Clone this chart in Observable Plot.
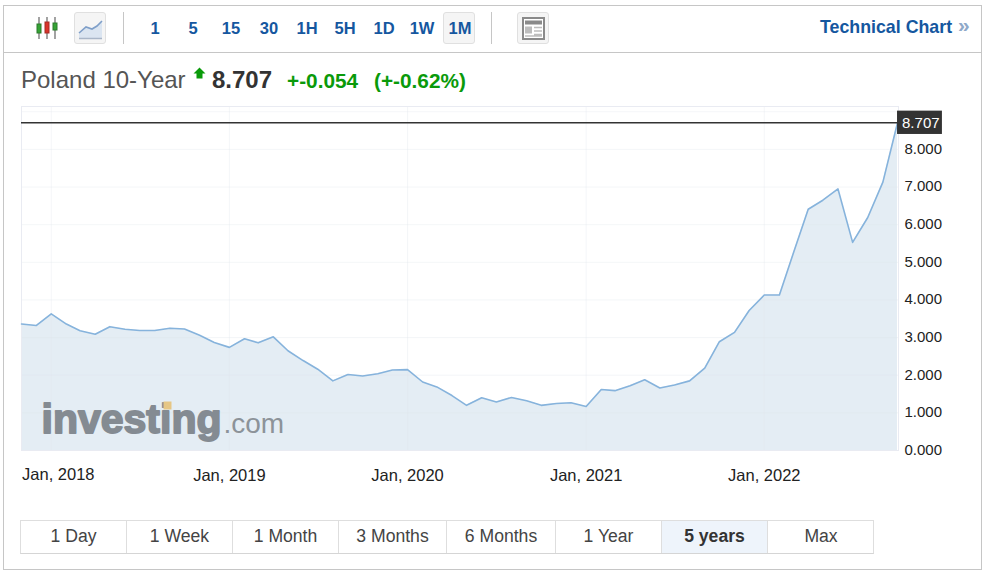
<!DOCTYPE html>
<html><head><meta charset="utf-8">
<script src="https://cdn.jsdelivr.net/npm/d3@7"></script>
<script src="https://cdn.jsdelivr.net/npm/@observablehq/plot@0.6"></script>
<style>
html,body{margin:0;padding:0;background:#fff;overflow:hidden;font-family:"Liberation Sans",Arial,sans-serif}
#page{position:relative;width:986px;height:575px}
#outer{position:absolute;left:3px;top:5px;width:977px;height:563px;border:1px solid #c6c6c6}
#hl{position:absolute;left:4px;width:977px;top:52px;height:1px;background:#c6c6c6}
.sep{position:absolute;top:12px;width:1px;height:32px;background:#c6c6c6}
.tb{position:absolute;top:12px;height:32px;line-height:32px;width:32px;text-align:center;font-weight:bold;font-size:16.5px;color:#15579f}
.box{position:absolute;top:12px;width:30px;height:30px;border:1px solid #e0e0e0;border-radius:3px;background:#f5f5f5}
.abs{position:absolute;white-space:nowrap}
#tabs{position:absolute;left:20px;top:520px;width:852px;height:32px;border:1px solid #dedede;border-bottom:1px solid #d5d5d5;display:block}
.tab{position:absolute;top:0;height:32px;line-height:31px;text-align:center;font-size:17.6px;color:#444;border-right:1px solid #dedede;box-sizing:border-box}
.tab.on{background:#eef4fb;font-weight:bold;color:#333}
#chart{position:absolute;left:0;top:99px}
</style></head><body>
<div id="page">
<div id="outer"></div><div id="hl"></div>
<svg class="abs" style="left:34px;top:15px" width="26" height="26" viewBox="0 0 26 26">
<g stroke="#666" stroke-width="1.2"><path d="M5 2V24M13 2V24M21 2V24"/></g>
<rect x="3" y="9" width="4" height="9" fill="#35a335" stroke="#2a7a2a"/><rect x="11" y="7" width="4" height="11" fill="#d9342b" stroke="#a52a24"/><rect x="19" y="8" width="4" height="7" fill="#35a335" stroke="#2a7a2a"/></svg>
<div class="box" style="left:74px"></div>
<svg class="abs" style="left:78px;top:18px" width="26" height="24" viewBox="0 0 26 24"><path d="M1 15L8 9L14 11L19 8L24 3V20H1Z" fill="#dbe5f1"/><path d="M1 15L8 9L14 11L19 8L24 3" fill="none" stroke="#7f9fc9" stroke-width="1.6"/><path d="M1 20.5H24" stroke="#a9b6c8" stroke-width="1.5"/></svg>
<div class="sep" style="left:123px"></div>
<div class="box" style="left:443px"></div>
<div id="tools"></div>
<div class="sep" style="left:491px"></div>
<div class="box" style="left:517px"></div>
<svg class="abs" style="left:522px;top:17px" width="23" height="23" viewBox="0 0 23 23"><rect x="1" y="1" width="21" height="21" fill="#fff" stroke="#8a8a8a" stroke-width="2"/><rect x="3" y="3.500" width="17" height="4" fill="#8a8a8a"/><rect x="3" y="9.500" width="7" height="7" fill="#bdbdbd"/><path d="M12 10.500H20M12 14H20M12 17.500H20M3 19H20" stroke="#bdbdbd" stroke-width="1.400"/></svg>
<div class="abs" style="left:820px;top:17px;font-size:17.800px;font-weight:bold;color:#15579f">Technical Chart</div>
<div class="abs" style="left:958px;top:13px;font-size:21px;font-weight:bold;color:#8fa9c9">»</div>
<div class="abs" style="left:21px;top:66px;font-size:24px;color:#555">Poland 10-Year</div>
<svg class="abs" style="left:193px;top:67px" width="13" height="12" viewBox="0 0 13 12"><path d="M6.500 0.500L12.500 6.500H9.500V11.500H3.500V6.500H0.500Z" fill="#0a9a0a"/></svg>
<div class="abs" style="left:212px;top:66px;font-size:24px;font-weight:bold;color:#333">8.707</div>
<div class="abs" style="left:287px;top:69px;font-size:20.800px;font-weight:bold;color:#0a9a0a">+-0.054</div>
<div class="abs" style="left:374px;top:69px;font-size:20.800px;font-weight:bold;color:#0a9a0a">(+-0.62%)</div>
<div id="chart"></div>
<div id="tabs"></div>
</div>
<script>
const toolLabels=["1","5","15","30","1H","5H","1D","1W","1M"];
const toolCenters=[155,193,231,269,307,345,384,422,460];
const tabLabels=["1 Day","1 Week","1 Month","3 Months","6 Months","1 Year","5 years","Max"];
const tabEdges=[0,106,212,318,426,535,641,747,853];
const months=["2017-11","2017-12",
"2018-01","2018-02","2018-03","2018-04","2018-05","2018-06","2018-07","2018-08","2018-09","2018-10","2018-11","2018-12",
"2019-01","2019-02","2019-03","2019-04","2019-05","2019-06","2019-07","2019-08","2019-09","2019-10","2019-11","2019-12",
"2020-01","2020-02","2020-03","2020-04","2020-05","2020-06","2020-07","2020-08","2020-09","2020-10","2020-11","2020-12",
"2021-01","2021-02","2021-03","2021-04","2021-05","2021-06","2021-07","2021-08","2021-09","2021-10","2021-11","2021-12",
"2022-01","2022-02","2022-03","2022-04","2022-05","2022-06","2022-07","2022-08","2022-09","2022-10"];
const yields=[3.36,3.32,
3.63,3.36,3.18,3.09,3.29,3.22,3.19,3.19,3.25,3.23,3.06,2.87,
2.74,2.97,2.86,3.02,2.65,2.39,2.16,1.85,2.02,1.98,2.04,2.14,
2.15,1.82,1.69,1.46,1.20,1.40,1.29,1.41,1.32,1.20,1.25,1.27,
1.17,1.62,1.59,1.72,1.88,1.66,1.74,1.85,2.19,2.89,3.14,3.72,
4.13,4.13,5.22,6.41,6.65,6.95,5.53,6.19,7.13,8.707];
const yTicks=[0,1,2,3,4,5,6,7,8];
const yGrid=[1,2,3,4,5,6,7,8,9];
const xTickDates=["2018-01","2019-01","2020-01","2021-01","2022-01"];
const xTickLabels=["Jan, 2018","Jan, 2019","Jan, 2020","Jan, 2021","Jan, 2022"];
const lastValue=8.707;
const labelBoxEnd="2023-01";
const domainEnd="2022-10-03";

const tools=document.getElementById("tools");
toolLabels.forEach((t,i)=>{const d=document.createElement("div");d.className="tb";d.textContent=t;d.style.left=(toolCenters[i]-16)+"px";tools.appendChild(d);});
const tabs=document.getElementById("tabs");
tabLabels.forEach((t,i)=>{const d=document.createElement("div");d.className="tab"+(t==="5 years"?" on":"");d.textContent=t;d.style.left=tabEdges[i]+"px";d.style.width=(tabEdges[i+1]-tabEdges[i])+"px";if(i===tabLabels.length-1)d.style.borderRight="none";tabs.appendChild(d);});

const dt=s=>new Date(s+"-01T00:00:00Z");
const data=months.map((m,i)=>({date:dt(m),v:yields[i]}));
const last=data[data.length-1].date;
const xT=xTickDates.map((d,i)=>({date:dt(d),label:xTickLabels[i]}));

const plot=Plot.plot({
  width:986,height:400,marginLeft:21,marginRight:88,marginTop:7,marginBottom:49,
  style:{background:"transparent",fontFamily:'"Liberation Sans",Arial,sans-serif',overflow:"visible"},
  x:{type:"utc",domain:[data[0].date,new Date(domainEnd+"T00:00:00Z")]},
  y:{domain:[0,9.14]},
  marks:[
    Plot.areaY(data,{x:"date",y:"v",fill:"#e4edf4"}),
    Plot.ruleY(yGrid,{stroke:"#dfe4ec",strokeOpacity:0.35}),
    Plot.ruleX(xT,{x:"date",stroke:"#dfe4ec",strokeOpacity:0.35}),
    Plot.frame({stroke:"#e9ebf2",strokeWidth:1}),
    Plot.text(["investing"],{frameAnchor:"bottom-left",dx:20,dy:-18,lineAnchor:"bottom",textAnchor:"start",fontSize:41,fontWeight:"bold",fill:"#848b92",stroke:"#848b92",strokeWidth:1.8,letterSpacing:-0.2}),
    Plot.text([".com"],{frameAnchor:"bottom-left",dx:202,dy:-18,lineAnchor:"bottom",textAnchor:"start",fontSize:28,fill:"#8c9399"}),
    Plot.dot(["mark"],{frameAnchor:"bottom-left",dx:146,dy:-45,symbol:"square",r:4.5,fill:"#e6c684"}),
    Plot.lineY(data,{x:"date",y:"v",stroke:"#86b3dc",strokeWidth:1.6}),
    Plot.ruleY([lastValue],{stroke:"#333",strokeWidth:1.4}),
    Plot.rect([{x1:last,x2:dt(labelBoxEnd),y1:lastValue-0.31,y2:lastValue+0.31}],{x1:"x1",x2:"x2",y1:"y1",y2:"y2",fill:"#333",inset:0}),
    Plot.text([lastValue],{x:last,y:d=>d,text:d=>d.toFixed(3),dx:4.5,textAnchor:"start",fill:"#fff",fontSize:15}),
    Plot.axisY({anchor:"right",ticks:yTicks,tickSize:0,tickPadding:6,tickFormat:d=>d.toFixed(3),fontSize:15,label:null,color:"#222",dy:-0.5}),
    Plot.axisX({anchor:"bottom",ticks:xT.slice(1).map(d=>d.date),tickSize:0,tickPadding:19,tickFormat:d=>xT.find(t=>+t.date===+d).label,fontSize:16.5,label:null,color:"#222"}),
    Plot.text([xT[0]],{x:"date",frameAnchor:"bottom",text:"label",dx:7,dy:24.5,lineAnchor:"middle",fontSize:16.5,fill:"#222"})
  ]
});
document.getElementById("chart").appendChild(plot);
</script>
</body></html>
